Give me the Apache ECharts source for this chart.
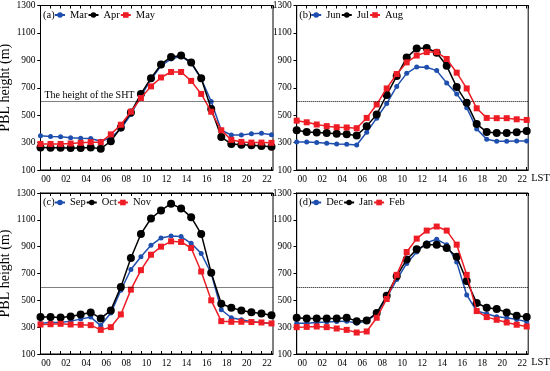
<!DOCTYPE html>
<html><head><meta charset="utf-8">
<script src="https://cdn.jsdelivr.net/npm/echarts@6/dist/echarts.min.js"></script>
<style>html,body{margin:0;padding:0;background:#fff}#c{width:550px;height:371px}</style>
</head><body><div id="c"></div>
<script>
// ---- data ----
const hours = [0,1,2,3,4,5,6,7,8,9,10,11,12,13,14,15,16,17,18,19,20,21,22,23];
const xTickLabels = ['00','02','04','06','08','10','12','14','16','18','20','22'];
const yTickValues = [100,300,500,700,900,1100,1300];
const shtHeight = 600;

const mar = [350,345,342,335,332,330,310,335,400,505,640,760,860,910,930,880,765,600,390,355,355,365,368,358];
const apr = [265,262,262,260,260,265,255,310,410,520,655,770,870,925,935,885,770,545,340,290,285,280,275,270];
const may = [290,290,290,293,298,303,303,360,430,525,625,710,775,815,815,750,655,525,390,320,305,300,300,298];

const jun = [305,305,300,295,290,287,283,375,478,585,710,805,852,850,825,735,655,555,400,325,310,310,312,312];
const jul = [390,378,373,370,365,360,352,420,505,648,785,920,987,990,955,860,705,590,435,378,370,370,375,385];
const aug = [460,448,432,420,412,410,405,480,578,695,800,885,935,960,960,910,810,695,550,480,478,478,470,465];

const sep = [330,335,335,345,360,375,312,405,575,730,825,910,965,980,975,925,850,700,430,370,355,340,335,325];
const oct = [375,375,372,380,395,410,365,425,600,815,995,1110,1170,1220,1185,1120,995,705,475,445,425,412,402,388];
const nov = [320,322,325,320,318,315,280,300,395,580,725,840,900,940,935,890,715,500,345,340,340,338,335,328];

const dec = [330,330,335,338,342,345,330,345,400,520,655,775,860,930,955,915,785,540,420,400,378,370,358,340];
const jan = [370,365,365,365,365,370,345,350,405,535,680,805,880,915,915,890,825,645,480,445,435,410,385,375];
const feb = [300,302,305,300,290,280,260,268,370,510,690,860,960,1020,1050,1020,915,690,420,375,355,335,318,305];

const panelTags = ['(a)','(b)','(c)','(d)'];
const panelNames = [['Mar','Apr','May'],['Jun','Jul','Aug'],['Sep','Oct','Nov'],['Dec','Jan','Feb']];
const panelData = [[mar,apr,may],[jun,jul,aug],[sep,oct,nov],[dec,jan,feb]];

// ---- layout / style ----
const FONT = 'Liberation Serif';
const gridPos = [
  {left:40.5, top:5.5, width:232.5, height:164.5},
  {left:296.7, top:5.5, width:231.5, height:164.5},
  {left:40.5, top:193, width:232.5, height:161},
  {left:296.7, top:193, width:231.5, height:161}
];
const styles = [
  {color:'#1f4fae', symbol:'circle', size:5},
  {color:'#000000', symbol:'circle', size:8},
  {color:'#ee1c25', symbol:'rect', size:6}
];

const grid = [], xAxis = [], yAxis = [], series = [], legend = [], title = [];
gridPos.forEach((g, i) => {
  grid.push(Object.assign({show:true, borderColor:'#000', borderWidth:1, backgroundColor:'#fff', outerBoundsMode:'none'}, g));
  const isRight = i % 2 === 1;
  xAxis.push({
    type:'value', gridIndex:i, min:0, max:23.15, interval:1,
    name: isRight ? 'LST' : '', nameLocation:'end', nameGap:3,
    nameTextStyle:{fontFamily:FONT, fontSize:10.5, color:'#000', verticalAlign:'top', padding:[3,0,0,0]},
    axisLine:{show:true, lineStyle:{color:'#000', width:1}},
    axisTick:{show:true, inside:true, length:3, lineStyle:{color:'#000'}},
    axisLabel:{
      show:true, margin:4, fontFamily:FONT, fontSize:9.5, color:'#000', padding:[0,0,0,11],
      showMaxLabel:false,
      formatter: v => (Number.isInteger(v) && v % 2 === 0 && v <= 22) ? xTickLabels[v/2] : ''
    },
    splitLine:{show:false}
  });
  xAxis.push({
    type:'value', gridIndex:i, position:'top', min:0, max:23.15, interval:1,
    axisLine:{show:true, lineStyle:{color:'#000'}},
    axisTick:{show:true, inside:true, length:3, lineStyle:{color:'#000'}},
    axisLabel:{show:false}, splitLine:{show:false}
  });
  yAxis.push({
    type:'value', gridIndex:i, min:100, max:1300, interval:200,
    name: isRight ? '' : 'PBL height (m)', nameLocation:'middle', nameGap:22,
    nameTextStyle:{fontFamily:FONT, fontSize:14, color:'#000'},
    axisLine:{show:true, lineStyle:{color:'#000', width:1}},
    axisTick:{show:true, inside:false, length:3, lineStyle:{color:'#000'}},
    axisLabel:{show:true, margin:5, fontFamily:FONT, fontSize:9.5, color:'#000',
      formatter: v => yTickValues.includes(v) ? String(v) : ''},
    splitLine:{show:false}
  });
  yAxis.push({
    type:'value', gridIndex:i, position:'right', min:100, max:1300, interval:200,
    axisLine:{show:true, lineStyle:{color:'#000'}},
    axisTick:{show:true, inside:true, length:3, lineStyle:{color:'#000'}},
    axisLabel:{show:false}, splitLine:{show:false}
  });
  title.push({text:panelTags[i], left:g.left + 2.5, top:g.top + 4, padding:0,
    textStyle:{fontFamily:FONT, fontSize:10.5, fontWeight:'normal', color:'#000'}});
  legend.push({
    data: panelNames[i], left:g.left + 13.5, top:g.top + 4, orient:'horizontal',
    itemWidth:10, itemHeight:7, itemGap:0, padding:0,
    textStyle:{fontFamily:FONT, fontSize:10.5, color:'#000'}
  });
  panelNames[i].forEach((nm, k) => {
    const st = styles[k];
    const s = {
      type:'line', name:nm, xAxisIndex:2*i, yAxisIndex:2*i,
      data: hours.map((h, j) => [h, panelData[i][k][j]]),
      symbol:st.symbol, symbolSize:st.size, showSymbol:true,
      itemStyle:{color:st.color}, lineStyle:{color:st.color, width:1.5},
      z: 3 + k
    };
    if (k === 0) {
      s.markLine = {
        silent:true, symbol:['none','none'], z:10,
        lineStyle:{type:'dotted', color:'#000', width:1},
        label: i === 0 ? {show:true, position:'insideStartTop', formatter:'The height of the SHT',
          fontFamily:FONT, fontSize:10, color:'#000', distance:[4,1]} : {show:false},
        data:[{yAxis:shtHeight}]
      };
    }
    series.push(s);
  });
});

const chart = echarts.init(document.getElementById('c'), null, {renderer:'canvas'});
chart.setOption({
  animation:false, backgroundColor:'#fff',
  textStyle:{fontFamily:FONT},
  grid, xAxis, yAxis, series, legend, title
});
</script>
</body></html>
